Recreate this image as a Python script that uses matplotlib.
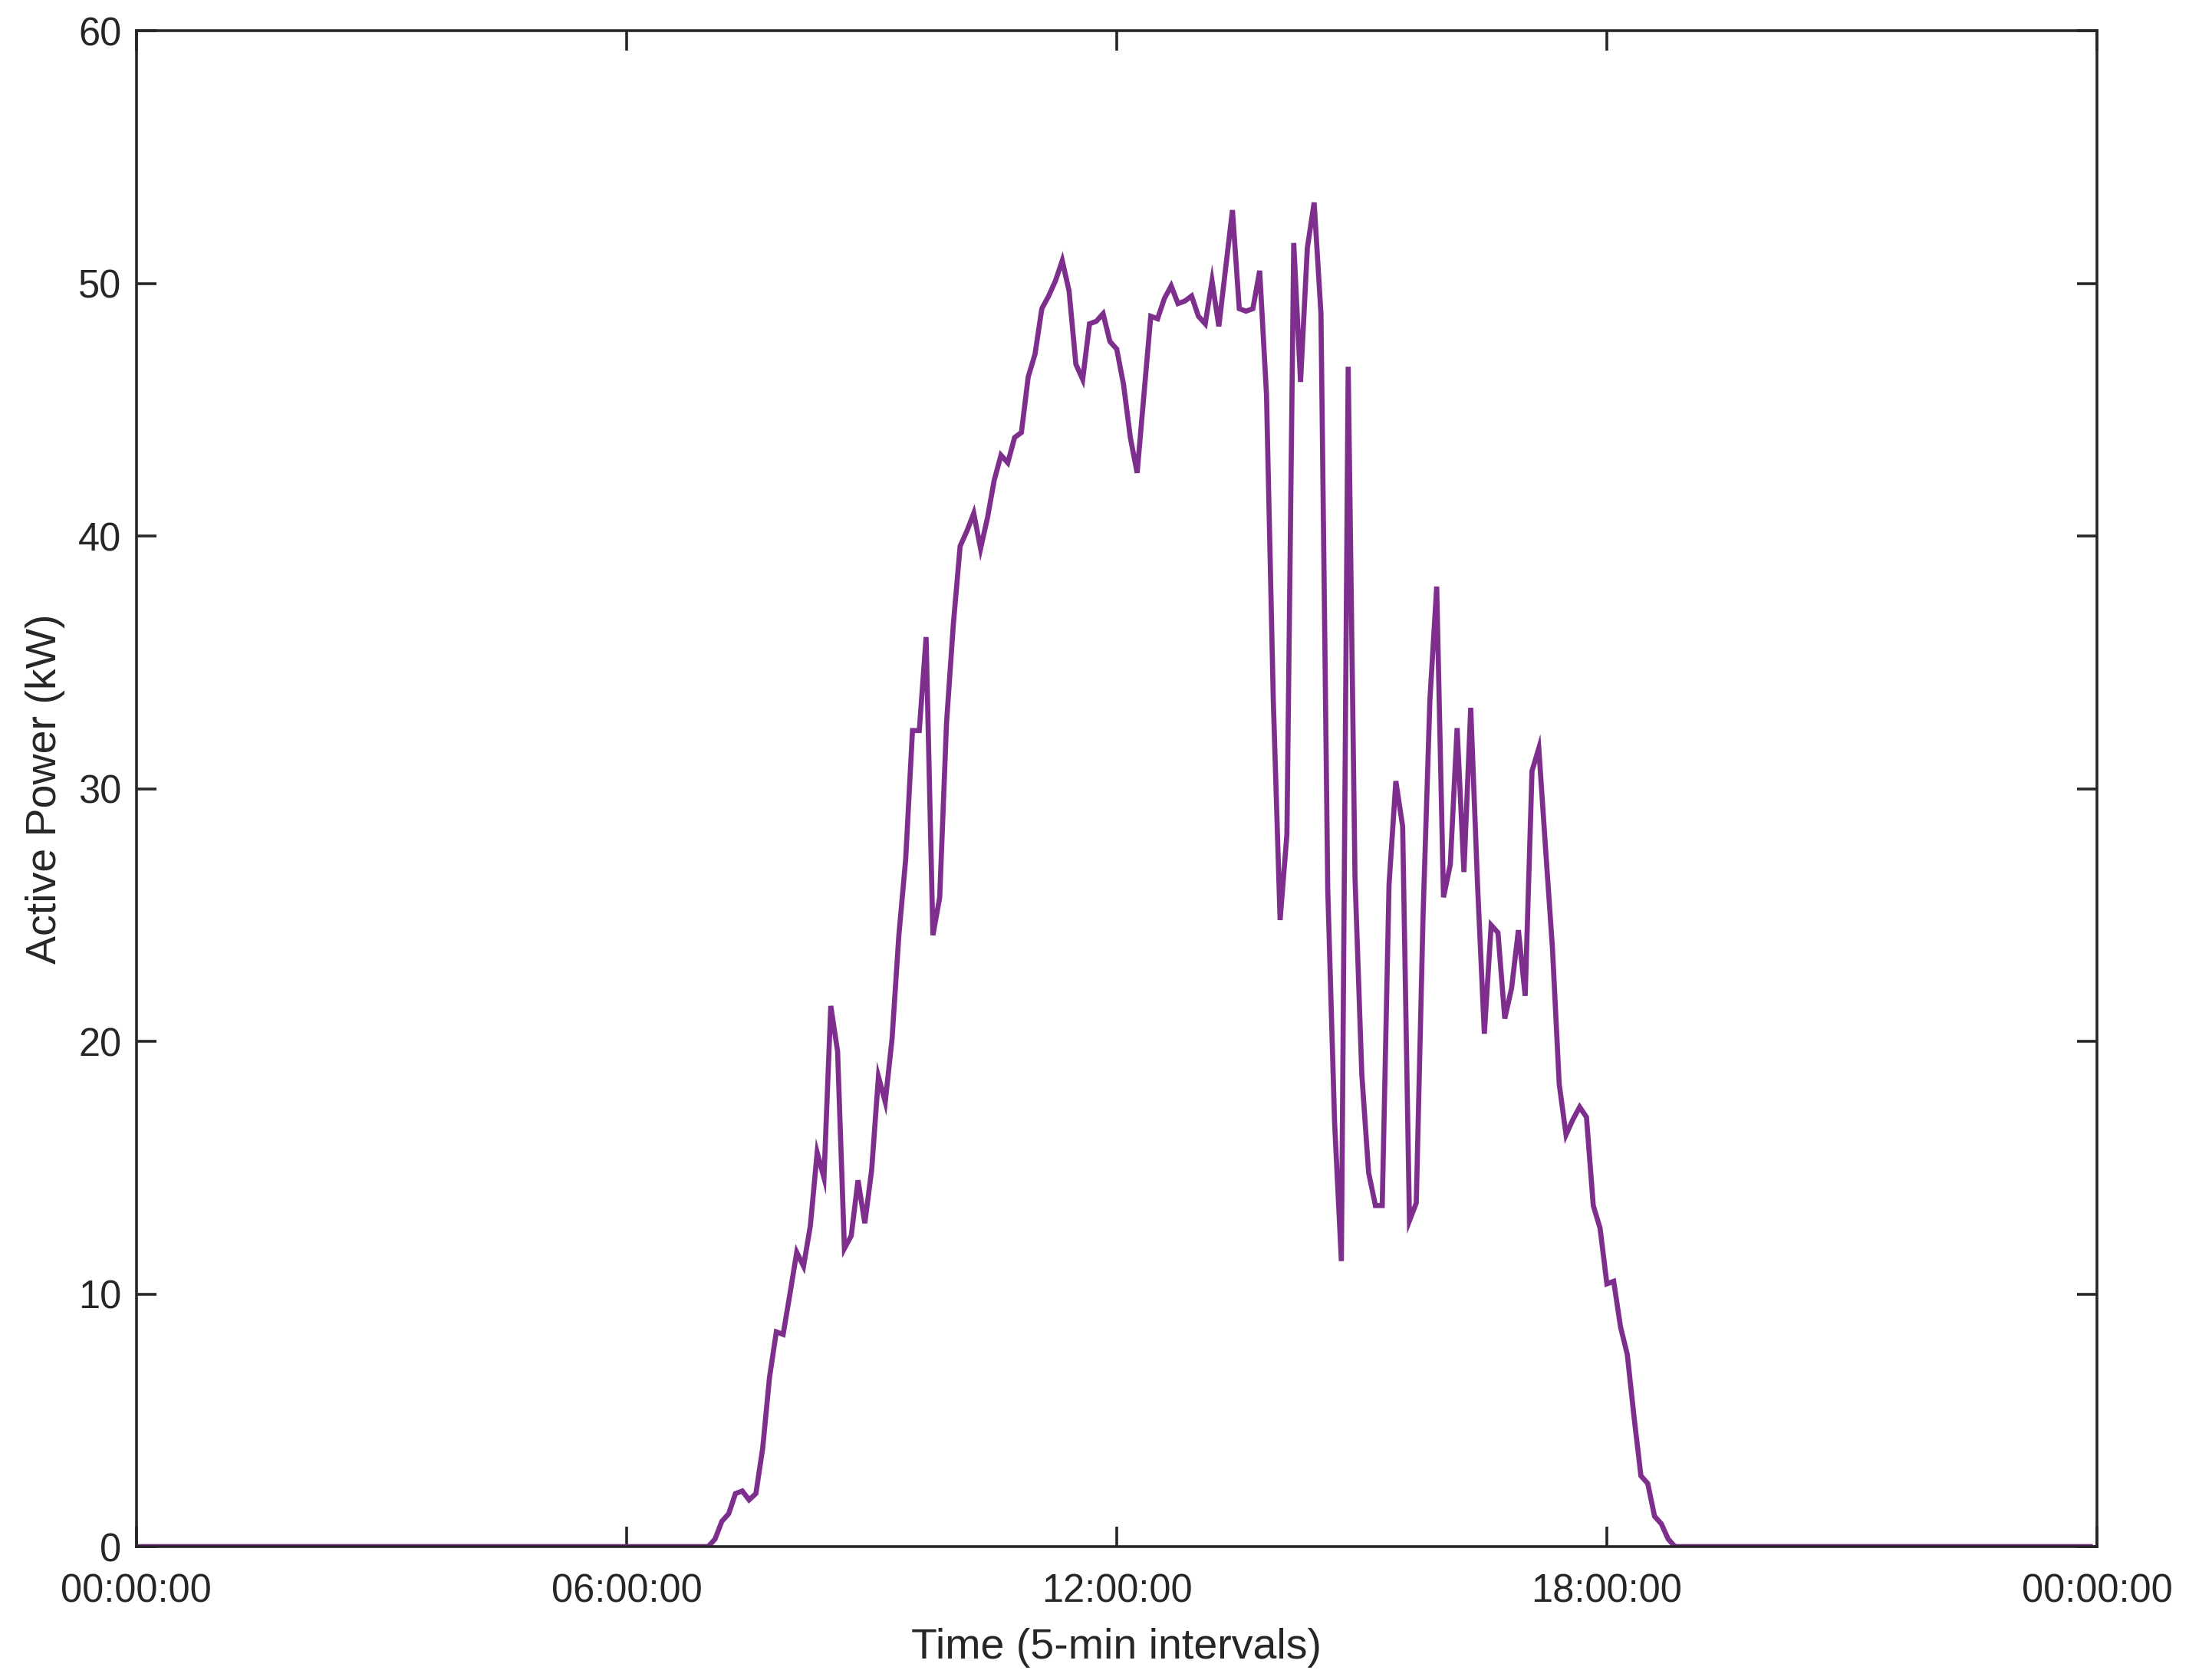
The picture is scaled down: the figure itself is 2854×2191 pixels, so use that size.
import numpy as np
import matplotlib.pyplot as plt

# 5-minute samples over one day (288 samples), values in kW
samples_per_day = 288
sunrise_index = 84  # 07:00, first sample of the daylight block

pre_dawn_kw = [0.0] * sunrise_index
daylight_kw = [
    0.0, 0.3, 1.0, 1.3, 2.1, 2.2, 1.85, 2.1, 3.9, 6.7,          # 84-93
    8.5, 8.4, 10.0, 11.65, 11.1, 12.7, 15.6, 14.6, 21.4, 19.6,  # 94-103
    11.8, 12.3, 14.5, 12.8, 14.9, 18.6, 17.6, 20.1, 24.2, 27.2,  # 104-113
    32.3, 32.3, 36.0, 24.2, 25.7, 32.6, 36.5, 39.6, 40.2, 40.9,  # 114-123
    39.5, 40.7, 42.2, 43.2, 42.9, 43.9, 44.1, 46.3, 47.2, 49.0,  # 124-133
    49.5, 50.1, 50.9, 49.7, 46.8, 46.2, 48.4, 48.5, 48.8, 47.7,  # 134-143
    47.4, 46.0, 43.9, 42.5, 45.6, 48.7, 48.6, 49.4, 49.9, 49.2,  # 144-153
    49.3, 49.5, 48.7, 48.4, 50.1, 48.3, 50.6, 52.9, 49.0, 48.9,  # 154-163
    49.0, 50.5, 45.6, 33.5, 24.8, 28.2, 51.6, 46.1, 51.4, 53.2,  # 164-173
    48.8, 26.0, 16.8, 11.3, 46.7, 26.5, 18.7, 14.8, 13.5, 13.5,  # 174-183
    26.2, 30.3, 28.5, 12.9, 13.6, 25.0, 33.5, 38.0, 25.7, 27.0,  # 184-193
    32.4, 26.7, 33.2, 26.2, 20.3, 24.6, 24.3, 20.9, 22.1, 24.4,  # 194-203
    21.8, 30.7, 31.6, 27.6, 23.7, 18.3, 16.3, 16.9, 17.4, 17.0,  # 204-213
    13.5, 12.6, 10.4, 10.5, 8.7, 7.6, 5.1, 2.8, 2.5, 1.2,        # 214-223
    0.9, 0.3, 0.0,                                               # 224-226
]
post_dusk_kw = [0.0] * (samples_per_day - sunrise_index - len(daylight_kw))

power_kw = np.array(pre_dawn_kw + daylight_kw + post_dusk_kw)
hours = np.arange(samples_per_day) * 5 / 60

x_ticks = [0, 6, 12, 18, 24]
x_tick_labels = ["00:00:00", "06:00:00", "12:00:00", "18:00:00", "00:00:00"]
y_ticks = [0, 10, 20, 30, 40, 50, 60]

ink = "#262626"
plt.rcParams["font.family"] = ["Liberation Sans", "DejaVu Sans"]

fig = plt.figure(figsize=(14.27, 10.955), dpi=200)
ax = fig.add_axes([0.0623, 0.0794, 0.8957, 0.9023])

ax.plot(hours, power_kw, color="#7E2F8E", linewidth=2.4, solid_joinstyle="miter")

ax.set_xlim(0, 24)
ax.set_ylim(0, 60)
ax.set_xticks(x_ticks)
ax.set_xticklabels(x_tick_labels)
ax.set_yticks(y_ticks)

ax.tick_params(axis="both", direction="in", length=9.4, width=1.3, colors=ink,
               labelsize=18.2, top=True, right=True)
ax.tick_params(axis="x", pad=12.5)
ax.tick_params(axis="y", pad=7)
for spine in ax.spines.values():
    spine.set_color(ink)
    spine.set_linewidth(1.3)

ax.set_xlabel("Time (5-min intervals)", fontsize=20, color=ink, labelpad=8)
ax.set_ylabel("Active Power (kW)", fontsize=20, color=ink, labelpad=6)

fig.savefig("out.png", dpi=200, facecolor="white")
plt.close(fig)
